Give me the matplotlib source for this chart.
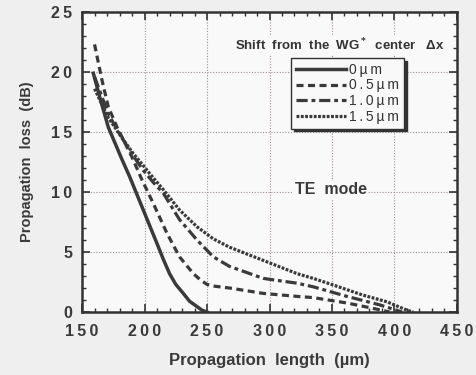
import matplotlib
matplotlib.use("Agg")
import matplotlib.pyplot as plt
from matplotlib.ticker import MultipleLocator, FuncFormatter

plt.rcParams['font.family'] = ['Liberation Sans', 'DejaVu Sans']

# Data
x_0 = [159, 165, 171, 182, 188, 199, 210, 215, 220, 225, 231, 236, 242, 246, 250]
y_0 = [19.9, 17.6, 15.4, 12.7, 11.3, 8.5, 5.7, 4.4, 3.2, 2.3, 1.55, 0.9, 0.45, 0.15, 0.0]

x_05 = [160, 166, 171, 178, 190, 198, 207, 218, 228, 239, 245, 250, 256, 268, 295, 322, 335, 362, 383, 396]
y_05 = [22.3, 19.3, 17.1, 15.4, 12.9, 11.0, 9.05, 6.55, 4.6, 3.2, 2.65, 2.3, 2.15, 2.0, 1.55, 1.3, 1.2, 0.75, 0.3, 0.0]

x_10 = [160, 171, 182, 191, 199, 207, 215, 228, 242, 255, 268, 295, 322, 335, 362, 388, 406]
y_10 = [19.6, 16.5, 14.5, 13.0, 11.8, 10.8, 9.9, 7.7, 6.0, 4.6, 3.8, 2.8, 2.4, 2.1, 1.3, 0.6, 0.0]

x_15 = [160, 171, 182, 191, 199, 204, 215, 228, 242, 255, 268, 295, 322, 335, 351, 375, 394, 410, 415]
y_15 = [18.6, 16.2, 14.5, 13.2, 12.2, 11.55, 10.2, 8.5, 7.1, 6.1, 5.4, 4.3, 3.2, 2.8, 2.25, 1.4, 0.85, 0.15, 0.0]

labels = ['0\u00b5m', '0.5\u00b5m', '1.0\u00b5m', '1.5\u00b5m']

SP = '\u2009'


def spaced(s):
    return SP.join(list(s))


fig = plt.figure(figsize=(4.77, 3.75), dpi=100, facecolor='#efefef')
ax = fig.add_axes([0.172, 0.168, 0.786, 0.800])
ax.set_facecolor('#f9f9f9')

lc = '#3a3a3a'
h0, = ax.plot(x_0, y_0, color=lc, lw=2.5, ls='-', solid_joinstyle='round')
h1, = ax.plot(x_05, y_05, color=lc, lw=2.3, ls=(0, (2.2, 1.4)))
h2, = ax.plot(x_10, y_10, color=lc, lw=2.3, ls=(0, (3.5, 1.2, 1.2, 1.2)))
h3, = ax.plot(x_15, y_15, color=lc, lw=2.3, ls=(0, (0.9, 0.45)))

ax.set_xlim(150, 450)
ax.set_ylim(0, 25)
ax.xaxis.set_major_locator(MultipleLocator(50))
ax.xaxis.set_minor_locator(MultipleLocator(10))
ax.yaxis.set_major_locator(MultipleLocator(5))
ax.yaxis.set_minor_locator(MultipleLocator(1))
fmt = FuncFormatter(lambda v, p: spaced('%d' % round(v)))
ax.xaxis.set_major_formatter(fmt)
ax.yaxis.set_major_formatter(fmt)
ax.tick_params(which='both', direction='in', top=True, right=True, colors='#333333')
ax.tick_params(which='major', length=6, width=1.2, labelsize=11.5, pad=7)
ax.tick_params(axis='x', which='major', pad=9)
ax.tick_params(which='minor', length=3, width=1.0)
for lab in ax.get_xticklabels() + ax.get_yticklabels():
    lab.set_fontweight('bold')
    lab.set_color('#3a3a3a')
for s in ax.spines.values():
    s.set_linewidth(1.8)
    s.set_color('#333333')
ax.grid(True, which='major', ls=(0, (1, 1.5)), color='#a09090', lw=0.8)

ax.set_xlabel('Propagation  length  (\u00b5m)', fontsize=12, fontweight='bold', color='#3a3a3a', labelpad=10)
ax.set_ylabel('Propagation  loss  (dB)', fontsize=10.5, fontweight='bold', color='#3a3a3a', labelpad=12)

ax.text(356, 22.25, 'Shift  from  the  WG$^{\\bf *}$  center   \u0394x', fontsize=9.5, fontweight='bold',
        color='#333333', ha='center', va='center',
        bbox=dict(facecolor='#f9f9f9', edgecolor='none', pad=1))

leg = ax.legend([h0, h1, h2, h3], [spaced(l) for l in labels], loc='upper left',
                bbox_to_anchor=(0.54, 0.87),
                prop={'size': 10}, frameon=True, fancybox=False,
                shadow={'color': '#333333', 'alpha': 1.0}, handlelength=3.6,
                handletextpad=0.2, borderpad=0.35, labelspacing=0.12)
fr = leg.get_frame()
fr.set_edgecolor('#333333')
fr.set_linewidth(1.0)
fr.set_facecolor('#f9f9f9')
for t in leg.get_texts():
    t.set_color('#333333')

ax.text(349, 10.2, 'TE  mode', fontsize=11.5, fontweight='bold', color='#3a3a3a',
        ha='center', va='center', bbox=dict(facecolor='#f9f9f9', edgecolor='none', pad=1))

fig.savefig('out.png', dpi=100, facecolor=fig.get_facecolor())
